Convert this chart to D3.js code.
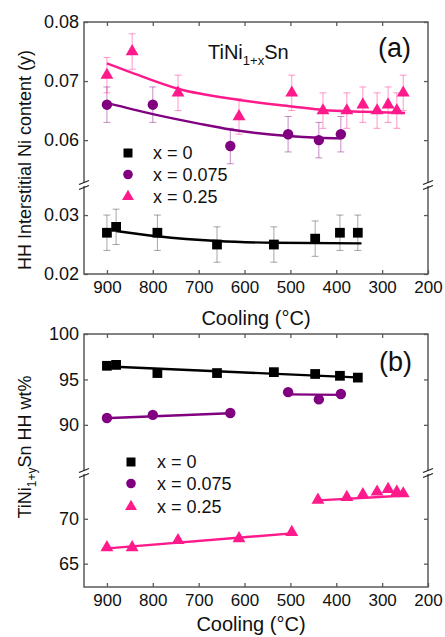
<!DOCTYPE html>
<html>
<head>
<meta charset="utf-8">
<script src="https://cdn.jsdelivr.net/npm/d3@7"></script>
<style>
  body { margin: 0; background: #fff; }
  text { font-family: "Liberation Sans", Arial, sans-serif; fill: #111; }
</style>
</head>
<body>
<div class="chartArea"></div>
<script>
let width = 445,
    height = 637

// cooling temperatures (°C) and values
// panel (a): interstitial Ni content y, error +-0.003
const tempsA0 = [900, 880, 790, 660, 536, 446, 392, 353]
const yA0 = [0.027, 0.028, 0.027, 0.025, 0.025, 0.026, 0.027, 0.027]
const tempsA1 = [900, 800, 631, 505, 438, 390]
const yA1 = [0.066, 0.066, 0.059, 0.061, 0.060, 0.061]
const tempsA2 = [900, 845, 745, 612, 497, 429, 377, 342, 311, 287, 268, 254]
const yA2 = [0.071, 0.075, 0.068, 0.064, 0.068, 0.065, 0.065, 0.066, 0.065, 0.066, 0.065, 0.068]
const errA = 0.003

// fitted curves of panel (a)
const fitA0 = [[880, 0.0273], [790, 0.0264], [660, 0.0256], [536, 0.0253], [345, 0.0252]]
const fitA1 = [[900, 0.0663], [800, 0.0644], [700, 0.0628], [631, 0.0618], [505, 0.0607], [438, 0.0604], [390, 0.0603]]
const fitA2 = [[900, 0.0730], [845, 0.0714], [745, 0.0687], [612, 0.0668], [497, 0.0657], [429, 0.0651], [340, 0.0648], [250, 0.0646]]

// panel (b): HH wt%
const yB0 = [96.5, 96.6, 95.7, 95.7, 95.8, 95.6, 95.4, 95.2]
const yB1 = [90.75, 91.1, 91.3, 93.6, 92.8, 93.4]
const yB2 = [66.8, 66.8, 67.6, 67.8, 68.5, 72.1, 72.4, 72.7, 73.0, 73.3, 73.0, 72.8]
const tempsB2 = [900, 845, 745, 612, 497, 440, 377, 342, 311, 287, 268, 254]

// linear fits of panel (b)
const fitB0 = [[[907, 96.45], [345, 95.2]]]
const fitB1 = [[[905, 90.73], [632, 91.28]], [[505, 93.35], [390, 93.3]]]
const fitB2 = [[[905, 66.67], [490, 68.4]], [[440, 72.05], [247, 72.6]]]

const xTicks = [900, 800, 700, 600, 500, 400, 300, 200]
const yTicksA = [0.02, 0.03, 0.06, 0.07, 0.08]
const yTicksB = [65, 70, 90, 95, 100]
const legendLabels = ['x = 0', 'x = 0.075', 'x = 0.25']

const colors = ['#000000', '#800080', '#ff1a8c']
const symbols = [d3.symbolSquare, d3.symbolCircle, d3.symbolTriangle]
const symSizes = [95, 85, 72]
const frameColor = '#5a5a5a'

const svg = d3.select('.chartArea')
    .append('svg')
    .attr('width', width)
    .attr('height', height)

const left = 84, right = 428

const xScale = d3.scaleLinear()
    .domain([950, 200])
    .range([left, right])

// broken y axes as piecewise scales
const yScaleA = d3.scaleLinear()
    .domain([0.02, 0.0351, 0.0524, 0.08])
    .range([274, 185, 185, 22])

const yScaleB = d3.scaleLinear()
    .domain([62.4, 75.1, 84.7, 100])
    .range([587, 473, 473, 334])

function drawFrame(top, bottom, breakY, yScale, yTicks, fmt) {
  const g = svg.append('g')

  g.append('g')
      .attr('class', 'xb')
      .attr('transform', `translate(0, ${bottom})`)
      .call(d3.axisBottom(xScale).tickValues(xTicks).tickSizeInner(-4).tickSizeOuter(0).tickPadding(7))
  g.append('g')
      .attr('transform', `translate(0, ${top})`)
      .call(d3.axisTop(xScale).tickValues(xTicks.slice(0, -1)).tickSizeInner(-4).tickSizeOuter(0).tickFormat(''))
  g.append('g')
      .attr('class', 'yl')
      .attr('transform', `translate(${left}, 0)`)
      .call(d3.axisLeft(yScale).tickValues(yTicks).tickFormat(fmt).tickSizeInner(-4).tickSizeOuter(0).tickPadding(5))
  g.append('g')
      .attr('transform', `translate(${right}, 0)`)
      .call(d3.axisRight(yScale).tickValues(yTicks).tickFormat('').tickSizeInner(-4).tickSizeOuter(0))

  g.selectAll('.domain').remove()
  g.selectAll('.tick line').attr('stroke', frameColor).attr('stroke-width', 1.3)
  g.selectAll('.tick text').attr('fill', '#111')
  g.select('.xb').selectAll('text').style('font-size', '17px')
  g.select('.yl').selectAll('text').style('font-size', '18px')

  g.append('rect')
      .attr('x', left).attr('y', top)
      .attr('width', right - left).attr('height', bottom - top)
      .attr('fill', 'none')
      .attr('stroke', frameColor)
      .attr('stroke-width', 1.5)

  // break marks
  ;[left, right].forEach(x => {
    g.append('rect')
        .attr('x', x - 2).attr('y', breakY - 2)
        .attr('width', 4).attr('height', 3)
        .attr('fill', '#fff')
    ;[-2.5, 2.5].forEach(d => {
      g.append('line')
          .attr('x1', x - 5).attr('y1', breakY + d + 2)
          .attr('x2', x + 5).attr('y2', breakY + d - 2)
          .attr('stroke', '#222')
          .attr('stroke-width', 1.2)
    })
  })
}

drawFrame(22, 274, 185, yScaleA, yTicksA, d3.format('.2f'))
drawFrame(334, 587, 473, yScaleB, yTicksB, d3.format('d'))

const fitLine = (yScale, curve) => d3.line()
    .x(d => xScale(d[0]))
    .y(d => yScale(d[1]))
    .curve(curve)

// ---------- panel (a) ----------
const seriesA = [
  { temps: tempsA0, vals: yA0, fit: fitA0 },
  { temps: tempsA1, vals: yA1, fit: fitA1 },
  { temps: tempsA2, vals: yA2, fit: fitA2 }
]

seriesA.forEach((s, k) => {
  const pts = s.temps.map((t, i) => ({ t: t, v: s.vals[i] }))
  const eb = svg.append('g')
      .attr('stroke', colors[k])
      .attr('stroke-opacity', k == 0 ? 0.35 : 0.45)
      .attr('stroke-width', 1)
  pts.forEach(p => {
    const x = xScale(p.t), y1 = yScaleA(p.v - errA), y2 = yScaleA(p.v + errA)
    eb.append('line').attr('x1', x).attr('x2', x).attr('y1', y1).attr('y2', y2)
    eb.append('line').attr('x1', x - 3.5).attr('x2', x + 3.5).attr('y1', y1).attr('y2', y1)
    eb.append('line').attr('x1', x - 3.5).attr('x2', x + 3.5).attr('y1', y2).attr('y2', y2)
  })
})

seriesA.forEach((s, k) => {
  svg.append('path')
      .datum(s.fit)
      .attr('d', fitLine(yScaleA, d3.curveMonotoneX))
      .attr('fill', 'none')
      .attr('stroke', colors[k])
      .attr('stroke-width', 2.4)
})

seriesA.forEach((s, k) => {
  svg.append('g').selectAll('path')
      .data(s.temps.map((t, i) => [t, s.vals[i]]))
      .enter()
      .append('path')
      .attr('d', d3.symbol().type(symbols[k]).size(symSizes[k]))
      .attr('transform', d => `translate(${xScale(d[0])}, ${yScaleA(d[1])})`)
      .attr('fill', colors[k])
})

// ---------- panel (b) ----------
const seriesB = [
  { temps: tempsA0, vals: yB0, fits: fitB0 },
  { temps: tempsA1, vals: yB1, fits: fitB1 },
  { temps: tempsB2, vals: yB2, fits: fitB2 }
]

seriesB.forEach((s, k) => {
  s.fits.forEach(f => {
    svg.append('path')
        .datum(f)
        .attr('d', fitLine(yScaleB, d3.curveLinear))
        .attr('fill', 'none')
        .attr('stroke', colors[k])
        .attr('stroke-width', 2.4)
  })
  svg.append('g').selectAll('path')
      .data(s.temps.map((t, i) => [t, s.vals[i]]))
      .enter()
      .append('path')
      .attr('d', d3.symbol().type(symbols[k]).size(symSizes[k]))
      .attr('transform', d => `translate(${xScale(d[0])}, ${yScaleB(d[1])})`)
      .attr('fill', colors[k])
})

// ---------- legends ----------
function legend(mx, tx, rows) {
  legendLabels.forEach((lab, k) => {
    svg.append('path')
        .attr('d', d3.symbol().type(symbols[k]).size(symSizes[k] * 0.85))
        .attr('transform', `translate(${mx}, ${rows[k]})`)
        .attr('fill', colors[k])
    svg.append('text')
        .attr('x', tx).attr('y', rows[k])
        .attr('dy', '0.35em')
        .style('font-size', '18px')
        .text(lab)
  })
}
legend(128, 153, [153, 174.5, 196.5])
legend(131, 157, [462, 483.5, 506.5])

// ---------- texts ----------
const title = svg.append('text').attr('x', 208).attr('y', 59).style('font-size', '20px')
title.append('tspan').text('TiNi')
title.append('tspan').attr('dy', 6).style('font-size', '13px').text('1+x')
title.append('tspan').attr('dy', -6).text('Sn')

svg.append('text').attr('x', 378).attr('y', 57).style('font-size', '27px').text('(a)')
svg.append('text').attr('x', 379).attr('y', 371).style('font-size', '27px').text('(b)')

svg.append('text')
    .attr('x', 256).attr('y', 325)
    .attr('text-anchor', 'middle')
    .style('font-size', '20px')
    .text('Cooling (°C)')
svg.append('text')
    .attr('x', 251).attr('y', 631)
    .attr('text-anchor', 'middle')
    .style('font-size', '20px')
    .text('Cooling (°C)')

svg.append('text')
    .attr('transform', 'translate(31, 160) rotate(-90)')
    .attr('text-anchor', 'middle')
    .style('font-size', '18px')
    .text('HH Interstitial Ni content (y)')

const ylabB = svg.append('text')
    .attr('transform', 'translate(31, 447) rotate(-90)')
    .attr('text-anchor', 'middle')
    .style('font-size', '18px')
ylabB.append('tspan').text('TiNi')
ylabB.append('tspan').attr('dy', 5).style('font-size', '12px').text('1+y')
ylabB.append('tspan').attr('dy', -5).text('Sn HH wt%')
</script>
</body>
</html>
